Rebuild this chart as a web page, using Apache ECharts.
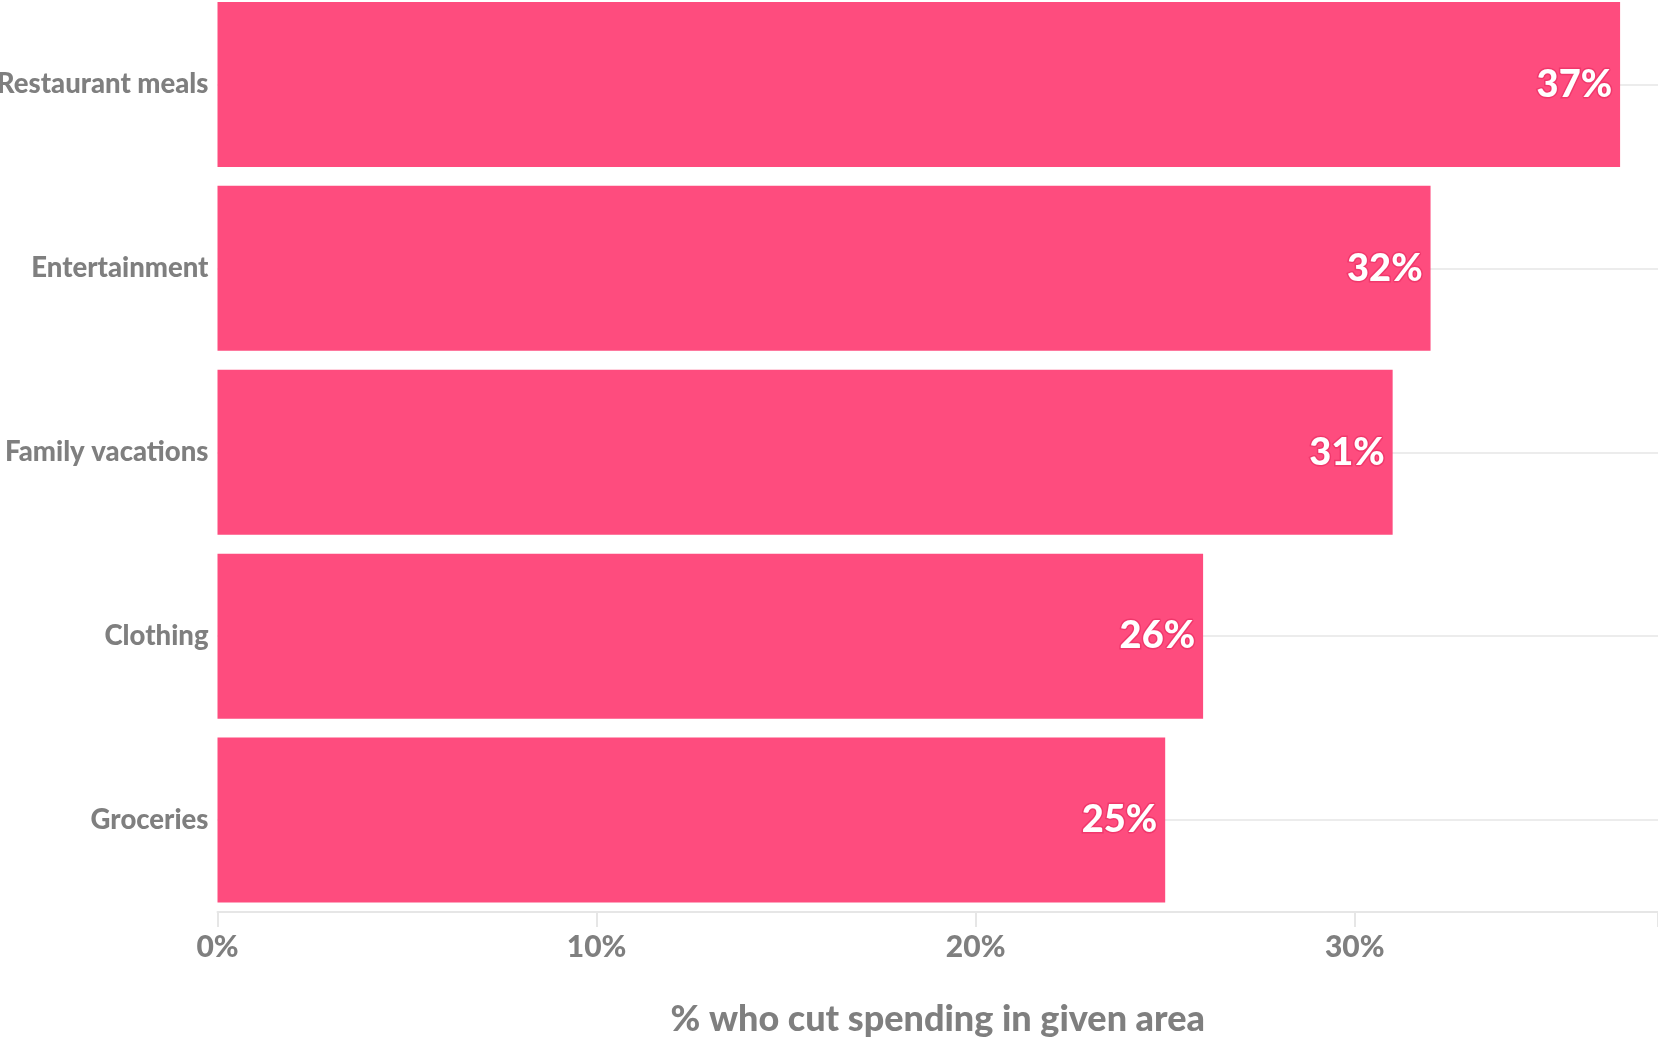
<!DOCTYPE html>
<html>
<head>
<meta charset="utf-8">
<script src="https://cdn.jsdelivr.net/npm/echarts@6/dist/echarts.min.js"></script>
<style>
html,body{margin:0;padding:0;background:#fff;}
#chart{width:1658px;height:1039px;}
</style>
</head>
<body>
<div id="chart"></div>
<script>
const categories = ['Restaurant meals', 'Entertainment', 'Family vacations', 'Clothing', 'Groceries'];
const values = [37, 32, 31, 26, 25];
const axisTitle = '% who cut spending in given area';

const FONT = 'Lato';
const W = 900;
const chart = echarts.init(document.getElementById('chart'));
chart.setOption({
  backgroundColor: '#ffffff',
  animation: false,
  grid: { left: 217.5, right: 0, top: -7.5, bottom: 127, outerBoundsMode: 'none', containLabel: false },
  xAxis: {
    type: 'value', min: 0, max: 38, interval: 10,
    name: axisTitle, nameLocation: 'middle', nameGap: 89,
    nameTextStyle: { fontFamily: FONT, fontWeight: W, fontSize: 36, color: '#7f7f7f' },
    axisLine: { show: true, lineStyle: { color: '#e6e6e6', width: 2 } },
    axisTick: { show: true, length: 15, lineStyle: { color: '#e6e6e6', width: 2 } },
    axisLabel: {
      margin: 20, fontFamily: FONT, fontWeight: W, fontSize: 30, color: '#7f7f7f',
      formatter: v => (v % 10 === 0 ? v + '%' : '')
    },
    splitLine: { show: false }
  },
  yAxis: {
    type: 'category', data: categories, inverse: true,
    axisLine: { show: false }, axisTick: { show: false },
    axisLabel: { margin: 9, padding: [4, 0, 0, 0], fontFamily: FONT, fontWeight: W, fontSize: 27.5, color: '#7f7f7f' },
    splitLine: { show: true, alignWithLabel: true, lineStyle: { color: '#ececec', width: 2 } }
  },
  series: [{
    type: 'bar', data: values, barCategoryGap: '10.3%', z: 3,
    itemStyle: { color: '#fe4c7e' },
    label: {
      show: true, position: 'insideRight', distance: 8, padding: [4, 0, 0, 0],
      formatter: p => p.value + '%',
      fontFamily: FONT, fontWeight: W, fontSize: 38, color: '#ffffff',
      textBorderColor: '#f0386c', textBorderWidth: 3
    }
  }]
});
</script>
</body>
</html>
